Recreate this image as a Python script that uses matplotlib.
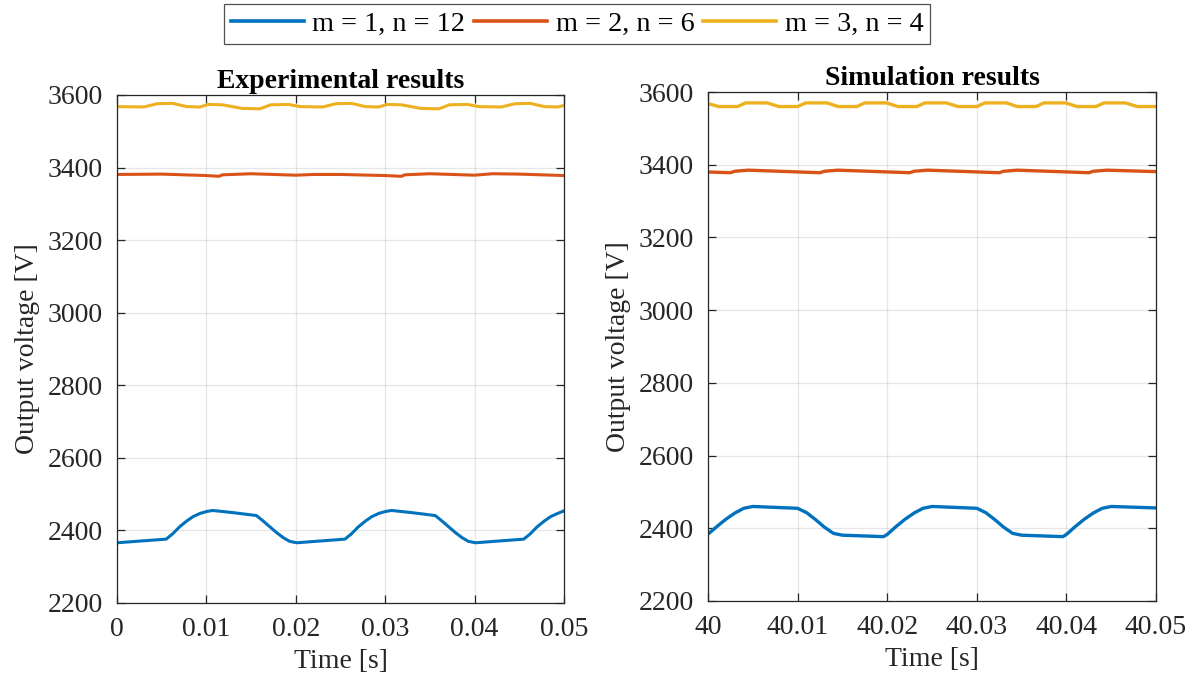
import matplotlib
matplotlib.use("Agg")
import matplotlib.pyplot as plt

exp_t_blue = [0.0000, 0.0055, 0.0062, 0.0070, 0.0078, 0.0085, 0.0093, 0.0100, 0.0107, 0.0130,
              0.0156, 0.0163, 0.0171, 0.0178, 0.0186, 0.0193, 0.0201,
              0.0255, 0.0262, 0.0270, 0.0278, 0.0285, 0.0293, 0.0300, 0.0307, 0.0330,
              0.0356, 0.0363, 0.0371, 0.0378, 0.0386, 0.0393, 0.0401,
              0.0455, 0.0462, 0.0470, 0.0478, 0.0485, 0.0493, 0.0500]
exp_v_blue = [2366, 2376, 2390, 2410, 2426, 2438, 2447, 2452, 2455, 2449,
              2441, 2427, 2410, 2395, 2380, 2370, 2366,
              2376, 2390, 2410, 2426, 2438, 2447, 2452, 2455, 2449,
              2441, 2427, 2410, 2395, 2380, 2370, 2366,
              2376, 2390, 2410, 2426, 2438, 2447, 2454]

exp_t_orange = [0.000, 0.005, 0.0100, 0.0114, 0.0118, 0.0150, 0.0200, 0.0220, 0.0250,
                0.0300, 0.0318, 0.0322, 0.0350, 0.0400, 0.0420, 0.0450, 0.0500]
exp_v_orange = [3381, 3382, 3378, 3376, 3380, 3383, 3379, 3381, 3381,
                3378, 3376, 3380, 3383, 3379, 3383, 3382, 3378]

exp_t_yellow = [0.0000, 0.0030, 0.0045, 0.0062, 0.0078, 0.0093, 0.0102, 0.0118, 0.0140, 0.0160,
                0.0172, 0.0192, 0.0205,
                0.0230, 0.0245, 0.0262, 0.0278, 0.0293, 0.0302, 0.0318, 0.0340, 0.0360,
                0.0372, 0.0392, 0.0405,
                0.0430, 0.0445, 0.0462, 0.0478, 0.0493, 0.0500]
exp_v_yellow = [3568, 3567, 3576, 3577, 3568, 3567, 3574, 3573, 3563, 3562,
                3573, 3574, 3568,
                3567, 3576, 3577, 3568, 3567, 3574, 3573, 3563, 3562,
                3573, 3574, 3568,
                3567, 3576, 3577, 3568, 3567, 3571]

# ---- simulation data ----
sim_t_blue = [40.0000, 40.0010, 40.0020, 40.0030, 40.0040, 40.0050, 40.0100,
              40.0110, 40.0120, 40.0130, 40.0140, 40.0150, 40.0196,
              40.0200, 40.0210, 40.0220, 40.0230, 40.0240, 40.0250, 40.0300,
              40.0310, 40.0320, 40.0330, 40.0340, 40.0350, 40.0396,
              40.0400, 40.0410, 40.0420, 40.0430, 40.0440, 40.0450, 40.0500]
sim_v_blue = [2384, 2405, 2425, 2442, 2455, 2460, 2455,
              2443, 2424, 2403, 2386, 2381, 2377,
              2383, 2405, 2425, 2442, 2455, 2460, 2455,
              2443, 2424, 2403, 2386, 2381, 2377,
              2383, 2405, 2425, 2442, 2455, 2460, 2456]

sim_t_orange = [40.0000, 40.0025, 40.0030, 40.0045, 40.0125, 40.0130, 40.0145,
                40.0225, 40.0230, 40.0245, 40.0325, 40.0330, 40.0345,
                40.0425, 40.0430, 40.0445, 40.0500]
sim_v_orange = [3380, 3378, 3382, 3385, 3378, 3382, 3385,
                3378, 3382, 3385, 3378, 3382, 3385,
                3378, 3382, 3385, 3381]

sim_t_yellow = [40.0000, 40.0012, 40.0033, 40.0042, 40.0066,
                40.0079, 40.0100, 40.0109, 40.0133,
                40.0145, 40.0166, 40.0175, 40.0199,
                40.0212, 40.0233, 40.0242, 40.0266,
                40.0279, 40.0300, 40.0309, 40.0333,
                40.0345, 40.0366, 40.0375, 40.0399,
                40.0412, 40.0433, 40.0442, 40.0466,
                40.0479, 40.0500]
sim_v_yellow = [3568, 3560, 3560, 3570, 3570,
                3560, 3560, 3570, 3570,
                3560, 3560, 3570, 3570,
                3560, 3560, 3570, 3570,
                3560, 3560, 3570, 3570,
                3560, 3560, 3570, 3570,
                3560, 3560, 3570, 3570,
                3560, 3560]

labels = ["m = 1, n = 12", "m = 2, n = 6", "m = 3, n = 4"]
colors = ["#0072BD", "#D95319", "#EDB120"]
yticks = [2200, 2400, 2600, 2800, 3000, 3200, 3400, 3600]
exp_xticks = [0, 0.01, 0.02, 0.03, 0.04, 0.05]
exp_xlabels = ["0", "0.01", "0.02", "0.03", "0.04", "0.05"]
sim_xticks = [40, 40.01, 40.02, 40.03, 40.04, 40.05]
sim_xlabels = ["40", "40.01", "40.02", "40.03", "40.04", "40.05"]

plt.rcParams["font.family"] = ["Liberation Serif", "DejaVu Serif"]
plt.rcParams["font.size"] = 20

fig = plt.figure(figsize=(11.94, 6.83), dpi=100)
ax1 = fig.add_axes([117 / 1194, 1 - 603 / 683, 447 / 1194, 508 / 683])
ax2 = fig.add_axes([708 / 1194, 1 - 601 / 683, 448 / 1194, 509 / 683])


def style(ax, xt, xl, title):
    ax.set_xlim(xt[0], xt[-1])
    ax.set_ylim(2200, 3600)
    ax.set_xticks(xt)
    ax.set_xticklabels(xl)
    ax.set_yticks(yticks)
    ax.grid(True, color="#262626", alpha=0.11, linewidth=0.9)
    ax.set_axisbelow(True)
    ax.tick_params(direction="in", length=6, width=0.9, colors="#262626",
                   top=True, right=True, labelsize=20)
    ax.tick_params(axis="x", pad=10)
    ax.tick_params(axis="y", pad=10)
    for s in ax.spines.values():
        s.set_color("#262626")
        s.set_linewidth(0.9)
    ax.set_xlabel("Time [s]", fontsize=20, color="#262626", labelpad=5)
    ax.set_ylabel("Output voltage [V]", fontsize=20, color="#262626", labelpad=6)
    ax.set_title(title, fontsize=20, fontweight="bold", pad=5)


lines = []
for t, v, c, lab in zip([exp_t_blue, exp_t_orange, exp_t_yellow],
                        [exp_v_blue, exp_v_orange, exp_v_yellow], colors, labels):
    l, = ax1.plot(t, v, color=c, linewidth=2.2, label=lab)
    lines.append(l)
for t, v, c in zip([sim_t_blue, sim_t_orange, sim_t_yellow],
                   [sim_v_blue, sim_v_orange, sim_v_yellow], colors):
    ax2.plot(t, v, color=c, linewidth=2.4)

style(ax1, exp_xticks, exp_xlabels, "Experimental results")
style(ax2, sim_xticks, sim_xlabels, "Simulation results")

leg = fig.legend(lines, labels, loc="upper center", bbox_to_anchor=(577 / 1194, 1 - 4 / 683),
                 ncol=3, fontsize=20.3, frameon=True, fancybox=False, handlelength=2.6,
                 handletextpad=0.3, columnspacing=0.3, borderpad=0.25, borderaxespad=0)
leg.get_frame().set_edgecolor("#262626")
leg.get_frame().set_linewidth(0.9)
for h in leg.get_lines():
    h.set_linewidth(2.6)

fig.savefig("out.png", dpi=100)
